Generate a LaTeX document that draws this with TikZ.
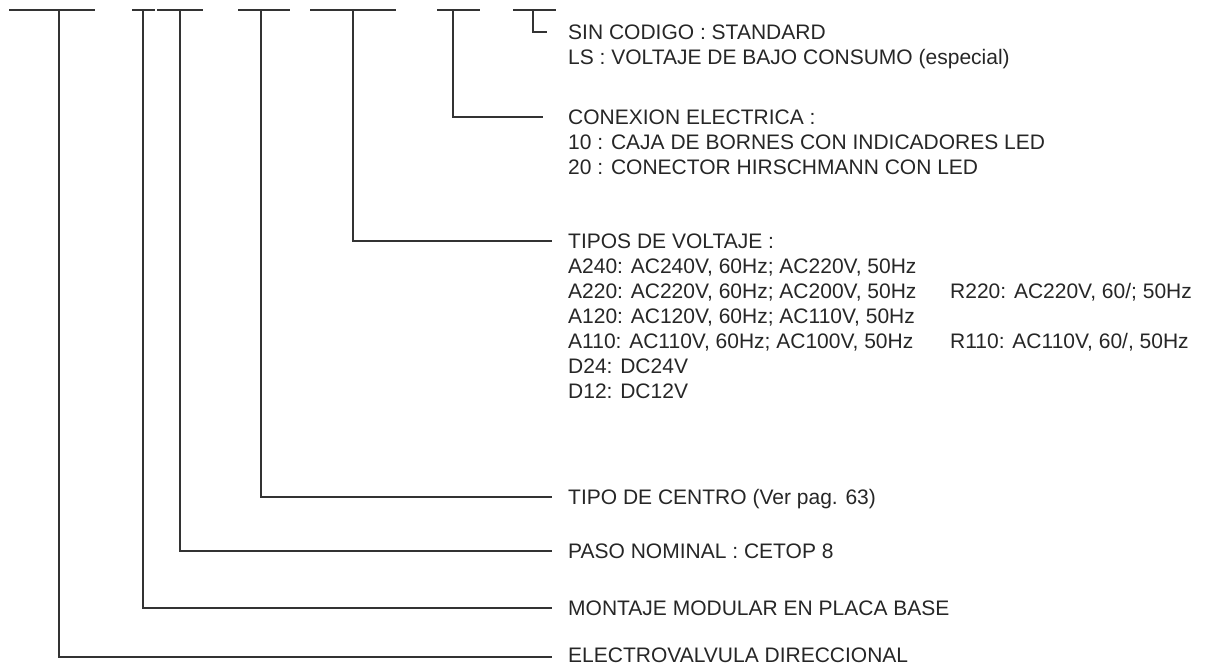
\documentclass[tikz,border=0pt]{standalone}
\usepackage{fontspec}
\setmainfont{Liberation Sans}
\usetikzlibrary{positioning}
\tikzstyle{lbl}=[anchor=west,inner sep=0pt,text height=15pt,text depth=0pt,font=\fontsize{21}{25}\selectfont,text=black!85]
\tikzstyle{wire}=[draw=black!80,line width=1.5pt]
\tikzstyle{bar}=[draw=black!80,line width=1.5pt]

\begin{document}
\begin{tikzpicture}[x=1pt,y=-1pt]
    \useasboundingbox (0,0) rectangle (1206,663);
    % code positions
    \draw[bar] (9,10) -- (95,10);
    \draw[bar] (132,10) -- (155,10);
    \draw[bar] (157,10) -- (203,10);
    \draw[bar] (238,10) -- (290,10);
    \draw[bar] (310,10) -- (396,10);
    \draw[bar] (437,10) -- (480,10);
    \draw[bar] (513,10) -- (556,10);
    \coordinate (k1) at (59,10);
    \coordinate (k2) at (143,10);
    \coordinate (k3) at (180,10);
    \coordinate (k4) at (261,10);
    \coordinate (k5) at (353,10);
    \coordinate (k6) at (453,10);
    \coordinate (k7) at (533,10);
    % labels
    \node[lbl] (sin) at (568,32) {SIN CODIGO : STANDARD};
    \node[lbl] (ls) at (568,57) {LS : VOLTAJE DE BAJO CONSUMO (especial)};
    \node[lbl] (conx) at (568,117) {CONEXION ELECTRICA :};
    \node[lbl] (c10) at (568,142) {10 : CAJA DE BORNES CON INDICADORES LED};
    \node[lbl] (c20) at (568,167) {20 : CONECTOR HIRSCHMANN CON LED};
    \node[lbl] (volt) at (568,241) {TIPOS DE VOLTAJE :};
    \node[lbl] (a240) at (568,266) {A240: AC240V, 60Hz; AC220V, 50Hz};
    \node[lbl] (a220) at (568,291) {A220: AC220V, 60Hz; AC200V, 50Hz};
    \node[lbl] (r220) at (950,291) {R220: AC220V, 60/; 50Hz};
    \node[lbl] (a120) at (568,316) {A120: AC120V, 60Hz; AC110V, 50Hz};
    \node[lbl] (a110) at (568,341) {A110: AC110V, 60Hz; AC100V, 50Hz};
    \node[lbl] (r110) at (950,341) {R110: AC110V, 60/, 50Hz};
    \node[lbl] (d24) at (568,366) {D24: DC24V};
    \node[lbl] (d12) at (568,391) {D12: DC12V};
    \node[lbl] (centro) at (568,497) {TIPO DE CENTRO (Ver pag. 63)};
    \node[lbl] (paso) at (568,551) {PASO NOMINAL : CETOP 8};
    \node[lbl] (mont) at (568,608) {MONTAJE MODULAR EN PLACA BASE};
    \node[lbl] (elec) at (568,655) {ELECTROVALVULA DIRECCIONAL};
    % leaders
    \draw[wire] (k7) |- ([xshift=-21pt]sin.west);
    \draw[wire] (k6) |- ([xshift=-25pt]conx.west);
    \draw[wire] (k5) |- ([xshift=-16pt]volt.west);
    \draw[wire] (k4) |- ([xshift=-16pt]centro.west);
    \draw[wire] (k3) |- ([xshift=-16pt]paso.west);
    \draw[wire] (k2) |- ([xshift=-16pt]mont.west);
    \draw[wire] (k1) |- ([xshift=-16pt,yshift=-2pt]elec.west);
\end{tikzpicture}
\end{document}
